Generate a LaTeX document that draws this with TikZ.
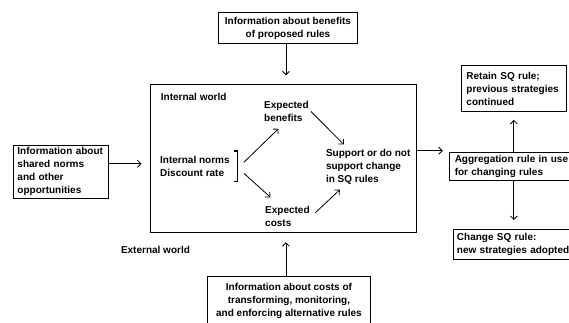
\documentclass[tikz,border=0pt]{standalone}
\usepackage{fontspec}
\setmainfont{Liberation Sans}
\usetikzlibrary{arrows.meta}

\begin{document}
\begin{tikzpicture}[x=1pt,y=-1pt,>={Straight Barb[length=3.5pt,width=7pt]},
    font=\fontsize{10}{13}\selectfont\bfseries,
    infobox/.style={draw,line width=.9pt,inner ysep=2pt},
    lbox/.style={infobox,align=left,anchor=north west},
    txt/.style={inner sep=2pt,align=left,anchor=west},
    link/.style={->,line width=.8pt}]
    \clip (0,0) rectangle (569,322);
    % boxes
    \node[draw,line width=.9pt,minimum width=265.5pt,minimum height=148pt,anchor=north west] (world) at (150,84.3) {};
    \node[infobox,align=center,minimum width=139pt,minimum height=30.7pt,anchor=north west] (benefitinfo) at (218,12.3) {Information about benefits\\of proposed rules};
    \node[lbox,inner xsep=4pt,text width=87pt,minimum height=53.3pt] (sharedinfo) at (13,144.7) {Information about\\shared norms\\and other\\opportunities};
    \node[lbox,inner xsep=5pt,text width=94.7pt,minimum height=45.7pt] (retain) at (461,65.3) {Retain SQ rule;\\previous strategies\\continued};
    \node[lbox,inner xsep=5.5pt,text width=119pt,minimum height=28pt] (aggrule) at (448.8,151.7) {Aggregation rule in use\\for changing rules};
    \node[lbox,inner xsep=3.5pt,text width=117pt,minimum height=30.3pt] (change) at (453,228.7) {Change SQ rule:\\new strategies adopted};
    \node[infobox,align=center,minimum width=163pt,minimum height=48pt,anchor=north west] (costinfo) at (207,276) {Information about costs of\\transforming, monitoring,\\and enforcing alternative rules};
    % texts in the world box
    \node[txt] (inworld) at (158.7,97) {Internal world};
    \node[txt] (benefits) at (262,111.4) {Expected\\benefits};
    \node[txt,inner ysep=5pt] (norms) at (158,166.3) {Internal norms\\Discount rate};
    \node[txt] (costs) at (263,216.2) {Expected\\costs};
    \node[txt] (support) at (323.8,167.2) {Support or do not\\support change\\in SQ rules};
    \node[txt] (outworld) at (118.8,250) {External world};
    \draw[line width=1.2pt] ([xshift=2pt]norms.north east) -- ([xshift=6pt]norms.north east) -- ([xshift=6pt]norms.south east) -- ([xshift=2pt]norms.south east);
    % arrows
    \draw[link] ([xshift=12pt,yshift=4pt]norms.east) -- ([xshift=-8pt,yshift=-5pt]benefits.south);
    \draw[link] ([xshift=12pt,yshift=-7pt]norms.east) -- ([xshift=-17pt,yshift=6.6pt]costs.north);
    \draw[link] (benefits.east) -- ([xshift=20pt,yshift=3pt]support.north west);
    \draw[link] ([xshift=3.5pt,yshift=3.5pt]costs.east) -- ([xshift=16pt,yshift=-2.7pt]support.south west);
    \draw[link,shorten >=9pt] ([xshift=-2pt]benefitinfo.south) coordinate (t) -- (t |- world.north);
    \draw[link,shorten >=9pt] ([xshift=-3pt]costinfo.north) coordinate (u) -- (u |- world.south);
    \draw[link,shorten >=8.5pt] ([yshift=8pt]sharedinfo.east) coordinate (a) -- (a -| world.west);
    \draw[link,shorten >=6pt] ([yshift=8pt]world.east) coordinate (b) -- (b -| aggrule.west);
    \draw[link,shorten >=8pt] (retain.south |- aggrule.north) -- (retain.south);
    \draw[link,shorten >=8.7pt] (retain.south |- aggrule.south) -- (retain.south |- change.north);
\end{tikzpicture}
\end{document}
